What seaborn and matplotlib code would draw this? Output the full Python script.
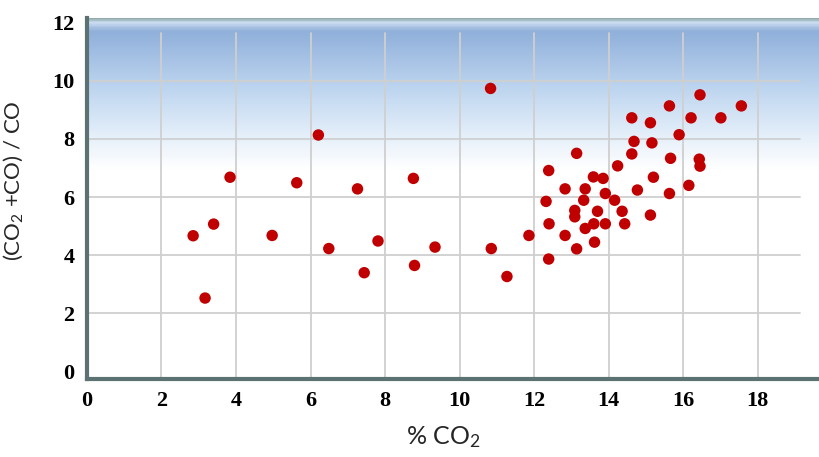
import numpy as np
import pandas as pd
import seaborn as sns
import matplotlib.pyplot as plt
from matplotlib.colors import LinearSegmentedColormap

# --- Data ---
co2_pct = [6.21, 3.84, 5.63, 7.26, 8.76, 3.40, 2.85, 4.97, 6.49, 7.81, 9.34, 10.85,
           7.44, 8.79, 3.17, 10.83,
           16.45, 15.63, 17.56, 14.62, 15.12, 16.21, 17.01, 15.89, 14.68, 15.16,
           14.62, 13.14, 15.66, 16.43, 16.45, 14.24, 12.39, 13.59, 13.85, 15.20,
           12.83, 13.37, 14.77, 15.63, 16.15, 13.91, 12.32, 13.33, 14.16, 13.09,
           13.09, 13.70, 14.36, 15.12, 12.40, 13.60, 13.91, 14.43, 13.37, 11.86,
           12.83, 13.62, 13.14, 12.39, 11.27]
ratio = [8.13, 6.68, 6.49, 6.28, 6.64, 5.07, 4.67, 4.68, 4.23, 4.49, 4.28, 4.23,
         3.40, 3.65, 2.53, 9.73,
         9.51, 9.13, 9.13, 8.72, 8.55, 8.72, 8.72, 8.14, 7.91, 7.86,
         7.48, 7.50, 7.33, 7.30, 7.06, 7.07, 6.91, 6.69, 6.64, 6.68,
         6.28, 6.28, 6.24, 6.12, 6.40, 6.12, 5.85, 5.89, 5.89, 5.54,
         5.32, 5.51, 5.51, 5.38, 5.08, 5.08, 5.08, 5.08, 4.92, 4.68,
         4.68, 4.45, 4.22, 3.87, 3.27]
x_ticks = [0, 2, 4, 6, 8, 10, 12, 14, 16, 18]
y_ticks = [0, 2, 4, 6, 8, 10, 12]

df = pd.DataFrame({"co2": co2_pct, "ratio": ratio})

# --- Style ---
sns.set_theme(style="white")
plt.rcParams["mathtext.fontset"] = "custom"
plt.rcParams["mathtext.rm"] = "Lato"
plt.rcParams["mathtext.default"] = "rm"

fig = plt.figure(figsize=(8.2, 4.57), dpi=100)
ax = fig.add_axes([0.106, 0.1707, 0.894, 0.790])

# gradient background with a bevel at the top
stops = [(0.0, (0.56, 0.66, 0.66)),
         (0.012, (0.80, 0.87, 0.95)),
         (0.035, (0.57, 0.69, 0.85)),
         (0.06, (0.59, 0.71, 0.87)),
         (0.20, (0.75, 0.84, 0.94)),
         (0.33, (0.90, 0.94, 0.98)),
         (0.42, (1.0, 1.0, 1.0)),
         (1.0, (1.0, 1.0, 1.0))]
cmap = LinearSegmentedColormap.from_list("bg", stops)
grad = np.linspace(0, 1, 400).reshape(-1, 1)
ax.imshow(grad, aspect="auto", cmap=cmap, extent=[0, 1, 0, 1],
          transform=ax.transAxes, zorder=0, interpolation="bilinear")

ax.set_xlim(0, 19.67)
ax.set_ylim(-0.25, 12.15)

# grid lines
for yv in y_ticks[1:-1]:
    ax.axhline(yv, xmin=0, xmax=0.973, color="#cfcfcf", lw=1.3, zorder=1)
for xv in x_ticks[1:]:
    ax.axvline(xv, ymin=0, ymax=0.958, color="#cfcfcf", lw=1.3, zorder=1)

sns.scatterplot(data=df, x="co2", y="ratio", ax=ax, color="#c00000",
                s=68, edgecolor="none", zorder=3, legend=False)

ax.set_xticks(x_ticks)
ax.set_yticks(y_ticks)
tick_font = dict(family="Liberation Serif", weight="bold", size=16)
ax.set_xticklabels([str(v) for v in x_ticks], **tick_font)
ax.set_yticklabels([str(v) for v in y_ticks], **tick_font)
ax.tick_params(axis="both", length=0, pad=9, colors="black")

for side in ["top", "right"]:
    ax.spines[side].set_visible(False)
ax.spines["left"].set_color("#5c7272")
ax.spines["left"].set_linewidth(3)
ax.spines["bottom"].set_color("#5c7272")
ax.spines["bottom"].set_linewidth(3)

ax.set_xlabel(r"% CO$_2$", fontsize=18, family="Lato")
ax.xaxis.set_label_coords(0.486, -0.125)
ax.set_ylabel(r"(CO$_2$ +CO) / CO", fontsize=16, family="Lato")
ax.yaxis.set_label_coords(-0.085, 0.55)

plt.savefig("out.png", dpi=100)
